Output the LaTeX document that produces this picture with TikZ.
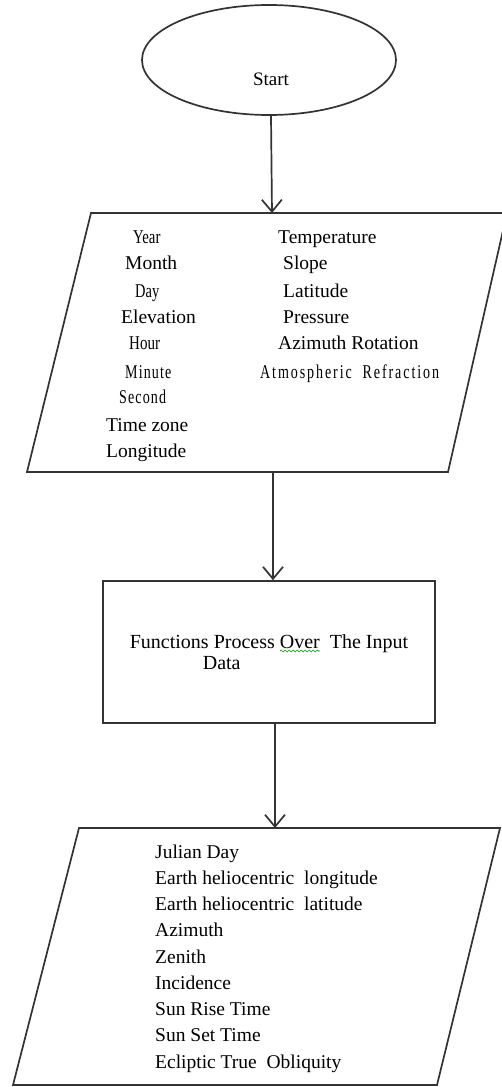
\documentclass[tikz,border=0pt]{standalone}
\usepackage{graphicx}
\usepackage{fontspec}
\setmainfont{Liberation Serif}
\newfontfamily\spacedA[LetterSpace=8]{Liberation Serif}
\newfontfamily\spacedB[LetterSpace=13.6]{Liberation Serif}
\usetikzlibrary{shapes.geometric,arrows.meta,decorations.pathmorphing}
\begin{document}
\begin{tikzpicture}[x=1pt,y=-1pt,
  line/.style={draw=black!80, line width=1.7pt},
  arr/.style={draw=black!80, line width=1.7pt, -{Straight Barb[length=12pt,width=20pt]}},
  big/.style={font=\fontsize{19.5}{22}\selectfont, inner sep=0pt, anchor=base west, text=black},
  cond/.style={font=\fontsize{19.5}{22}\selectfont, inner sep=0pt, anchor=base west, text=black},
  spsmall/.style={font=\spacedA\fontsize{19.5}{22}\selectfont, inner sep=0pt, anchor=base west, text=black},
  spwide/.style={font=\spacedB\fontsize{19.5}{22}\selectfont, inner sep=0pt, anchor=base west, text=black}
]
\useasboundingbox (0,0) rectangle (502,1087);
\fill[white] (0,0) rectangle (502,1087);

% Start
\node[line, ellipse, minimum width=254pt, minimum height=110pt, inner sep=0pt] (start) at (269,60) {};
\node[font=\fontsize{19}{22}\selectfont, anchor=base, inner sep=0pt] (startlbl) at (271,85) {Start};

% Input parallelogram
\coordinate (in1tl) at (91,213);
\coordinate (in1tr) at (507,213);
\coordinate (in1br) at (448,472);
\coordinate (in1bl) at (27,472);
\coordinate (in1top) at (272,213);
\coordinate (in1bot) at (273,472);
\draw[line, line join=miter] (in1tl) -- (in1tr) -- (in1br) -- (in1bl) -- cycle;

\node[cond]    (year)  at (133,243)   {\scalebox{0.76}[1]{Year}};
\node[big]     (month) at (125,269)   {Month};
\node[cond]    (day)   at (135,297)   {\scalebox{0.74}[1]{Day}};
\node[big]     (elev)  at (121,323)   {Elevation};
\node[cond]    (hour)  at (129,349)   {\scalebox{0.77}[1]{Hour}};
\node[spsmall] (minute) at (125,378)  {\scalebox{0.72}[1]{Minute}};
\node[spsmall] (second) at (119,403)  {\scalebox{0.72}[1]{Second}};
\node[big]     (tz)    at (106,431)   {Time zone};
\node[big]     (lon)   at (106,457)   {Longitude};

\node[big]     (temp)  at (278,243)   {Temperature};
\node[big]     (slope) at (283,269)   {Slope};
\node[big]     (lat)   at (283,297)   {Latitude};
\node[big]     (pres)  at (283,323)   {Pressure};
\node[big]     (azr)   at (278,349)   {Azimuth Rotation};
\node[spwide]  (atm)   at (260,378)   {\scalebox{0.72}[1]{Atmospheric\ \ Refraction}};

% Process rectangle
\node[line, rectangle, minimum width=332pt, minimum height=142pt, inner sep=0pt,
      align=left, font=\fontsize{20}{21}\selectfont] (proc) at (269,652)
      {Functions Process Over\ \ The Input\\\hspace*{73pt}Data};
\draw[green!60!black, line width=0.6pt, decorate,
      decoration={snake, amplitude=1pt, segment length=4pt}] (280,651) -- (320,651);

% Output parallelogram
\coordinate (out1tl) at (79,828);
\coordinate (out1tr) at (500,828);
\coordinate (out1br) at (437,1085);
\coordinate (out1bl) at (13,1085);
\coordinate (out1top) at (275,828);
\draw[line, line join=miter] (out1tl) -- (out1tr) -- (out1br) -- (out1bl) -- cycle;

\foreach \i/\t in {0/Julian Day, 1/Earth heliocentric\ \ longitude, 2/Earth heliocentric\ \ latitude,
  3/Azimuth, 4/Zenith, 5/Incidence, 6/Sun Rise Time, 7/Sun Set Time, 8/Ecliptic True\ \ Obliquity}
  \node[big] (out\i) at (155,858+26.25*\i) {\t};

% Connectors
\draw[arr] (start.south -| 271,0) -- (in1top);
\draw[arr] (in1bot) -- (in1bot |- proc.north);
\draw[arr] (proc.south -| out1top) -- (out1top);
\end{tikzpicture}
\end{document}
